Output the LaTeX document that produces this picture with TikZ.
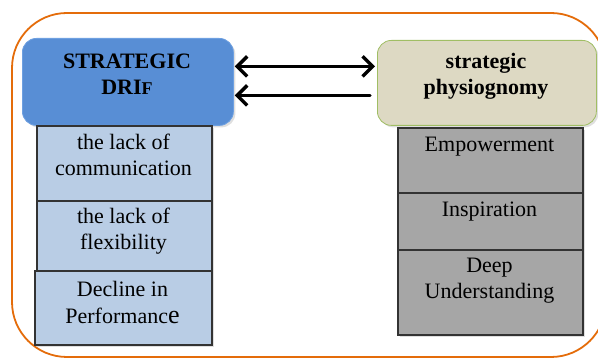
\documentclass[tikz,border=0pt]{standalone}
\usepackage{fontspec}
\setmainfont{Liberation Serif}
\usetikzlibrary{arrows.meta,shadows}
\definecolor{frameorange}{RGB}{228,108,10}
\definecolor{driftblue}{RGB}{88,142,213}
\definecolor{driftedge}{RGB}{110,160,225}
\definecolor{physfill}{RGB}{221,217,195}
\definecolor{physedge}{RGB}{160,190,100}
\definecolor{cellblue}{RGB}{185,205,229}
\definecolor{cellgray}{RGB}{166,166,166}
\begin{document}
\begin{tikzpicture}[x=1pt,y=-1pt,
  txt/.style={font=\fontsize{22}{26.5}\selectfont, align=center, inner sep=0pt},
  head/.style={font=\fontsize{22}{26}\selectfont\bfseries, align=center, inner sep=0pt},
  soft/.style={drop shadow={opacity=0.25, shadow xshift=2pt, shadow yshift=-2pt}},
  title/.style={soft, rounded corners=14pt, anchor=north west, inner sep=0pt, line width=0.8pt},
  cell/.style={soft, draw=black!80, line width=1.6pt, anchor=north west, inner sep=0pt},
  tip/.tip={Straight Barb[length=10pt,width=20pt]},
  arr/.style={line width=3.4pt, line cap=round, tip-tip},
  arrl/.style={line width=3.4pt, line cap=round, tip-}
]
\useasboundingbox (0,0) rectangle (598,358);

% outer frame
\draw[frameorange, line width=1.8pt, rounded corners=55pt] (12,13) rectangle (606,357);

% title boxes
\node[title, fill=driftblue, draw=driftedge, minimum width=211pt, minimum height=87pt] (drift) at (22,38) {};
\node[head] (driftt) at (127,74.5) {STRATEGIC\\DRI{\fontsize{18}{26}\selectfont F}};

\node[title, fill=physfill, draw=physedge, minimum width=219pt, minimum height=85pt] (phys) at (377,40) {};
\node[head] (physt) at (486,76) {strategic\\physiognomy};

% left column
\node[cell, fill=cellblue, minimum width=175pt, minimum height=75pt] (c1) at (36,125) {};
\node[txt] (c1t) at (123.5,155) {the lack of\\communication};
\node[cell, fill=cellblue, minimum width=175pt, minimum height=70pt] (c2) at (36,200) {};
\node[txt] (c2t) at (123.5,231) {the lack of\\flexibility};
\node[cell, fill=cellblue, minimum width=177pt, minimum height=74pt] (c3) at (34,270) {};
\node[txt] (c3t) at (122.5,302.5) {Decline in\\Performanc{\fontsize{26}{26}\selectfont e}};

% right column
\node[cell, fill=cellgray, minimum width=185pt, minimum height=65pt] (r1) at (397,127) {};
\node[txt] (r1t) at (489.5,147) {Empowerment};
\node[cell, fill=cellgray, minimum width=185pt, minimum height=57pt] (r2) at (397,192) {};
\node[txt] (r2t) at (489.5,212) {Inspiration};
\node[cell, fill=cellgray, minimum width=185pt, minimum height=85pt] (r3) at (397,249) {};
\node[txt] (r3t) at (489.5,280.5) {Deep\\Understanding};

% connectors
\draw[arr, shorten >=2pt, shorten <=1pt] ([yshift=15.5pt]drift.east) -- ([yshift=16.5pt]phys.west);
\draw[arrl, shorten >=7pt, shorten <=1pt] ([yshift=-13.5pt]drift.east) -- ([yshift=-12.5pt]phys.west);
\end{tikzpicture}
\end{document}
